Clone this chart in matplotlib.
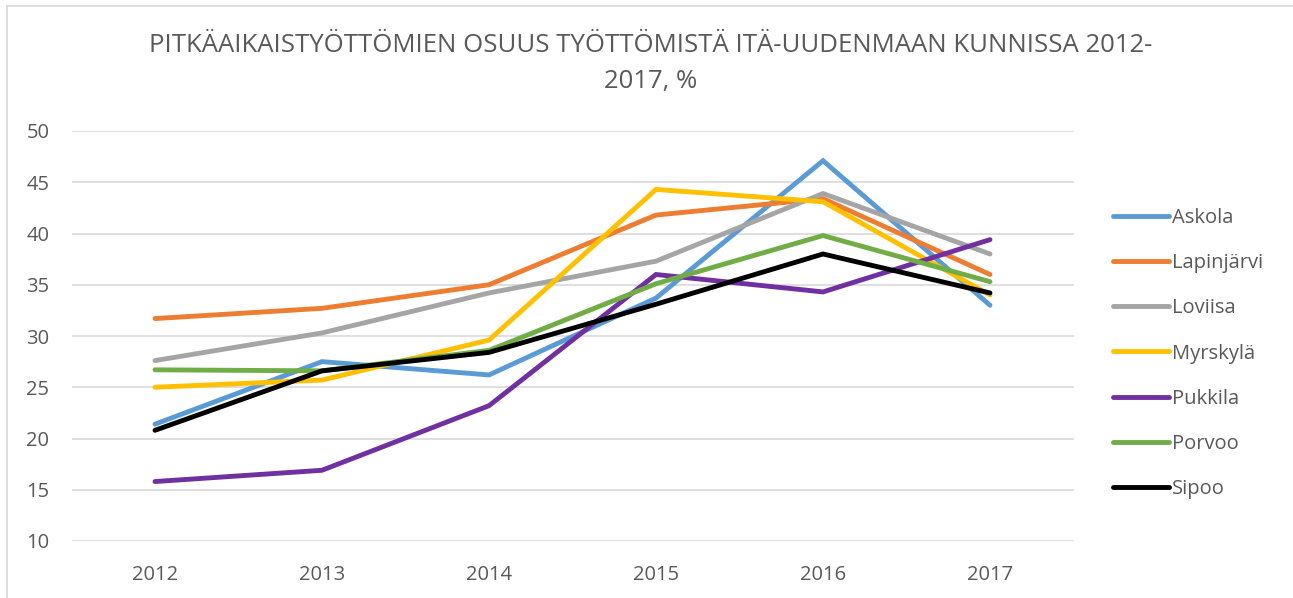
import matplotlib.pyplot as plt
from matplotlib.lines import Line2D

years = ["2012", "2013", "2014", "2015", "2016", "2017"]

askola = [21.4, 27.5, 26.2, 33.7, 47.1, 33.0]
lapinjarvi = [31.7, 32.7, 35.0, 41.8, 43.4, 36.0]
loviisa = [27.6, 30.3, 34.2, 37.3, 43.9, 38.0]
myrskyla = [25.0, 25.7, 29.6, 44.3, 43.1, 34.0]
pukkila = [15.8, 16.9, 23.2, 36.0, 34.3, 39.4]
porvoo = [26.7, 26.6, 28.6, 35.1, 39.8, 35.3]
sipoo = [20.8, 26.6, 28.4, 33.1, 38.0, 34.2]

series = [
    ("Askola", askola, "#5B9BD5"),
    ("Lapinjärvi", lapinjarvi, "#ED7D31"),
    ("Loviisa", loviisa, "#A5A5A5"),
    ("Myrskylä", myrskyla, "#FFC000"),
    ("Pukkila", pukkila, "#7030A0"),
    ("Porvoo", porvoo, "#70AD47"),
    ("Sipoo", sipoo, "#000000"),
]

plt.rcParams["font.family"] = ["Open Sans", "DejaVu Sans"]
txt = "#595959"
fs = 14.5

fig = plt.figure(figsize=(12.93, 5.98), dpi=100)
ax = fig.add_axes([71.5 / 1293, 1 - 541 / 598, 1002 / 1293, 410 / 598])

x = list(range(len(years)))
for name, vals, col in series:
    ax.plot(x, vals, color=col, linewidth=3.5, solid_capstyle="round",
            solid_joinstyle="miter", label=name)

ax.set_xlim(-0.5, 5.5)
ax.set_ylim(10, 50)
ax.set_yticks(range(10, 51, 5))
ax.set_xticks(x)
ax.set_xticklabels(years)
ax.yaxis.grid(True, color="#D9D9D9", linewidth=1.2)
ax.set_axisbelow(True)
for s in ax.spines.values():
    s.set_visible(False)
ax.tick_params(axis="both", length=0, labelsize=fs, colors=txt)
ax.tick_params(axis="y", pad=16)
ax.tick_params(axis="x", pad=17)

fig.text(0.503, 0.924, "PITKÄAIKAISTYÖTTÖMIEN OSUUS TYÖTTÖMISTÄ ITÄ-UUDENMAAN KUNNISSA 2012-",
         ha="center", va="center", fontsize=18.5, color=txt)
fig.text(0.503, 0.863, "2017, %", ha="center", va="center", fontsize=18.5, color=txt)

handles = [Line2D([0], [0], color=c, linewidth=3.5, solid_capstyle="round") for _, _, c in series]
leg = fig.legend(handles, [n for n, _, _ in series], loc="upper left",
                 bbox_to_anchor=(1113 / 1293, 1 - 208 / 598), frameon=False,
                 fontsize=fs, labelcolor=txt, handlelength=2.8, handletextpad=0.15,
                 labelspacing=1.25, borderpad=0, borderaxespad=0)

# chart border (left and top)
fig.add_artist(Line2D([7 / 1293, 7 / 1293], [0, 1 - 6 / 598], color="#D9D9D9", linewidth=1.2))
fig.add_artist(Line2D([7 / 1293, 1], [1 - 6 / 598, 1 - 6 / 598], color="#D9D9D9", linewidth=1.2))

fig.savefig("out.png", dpi=100)
